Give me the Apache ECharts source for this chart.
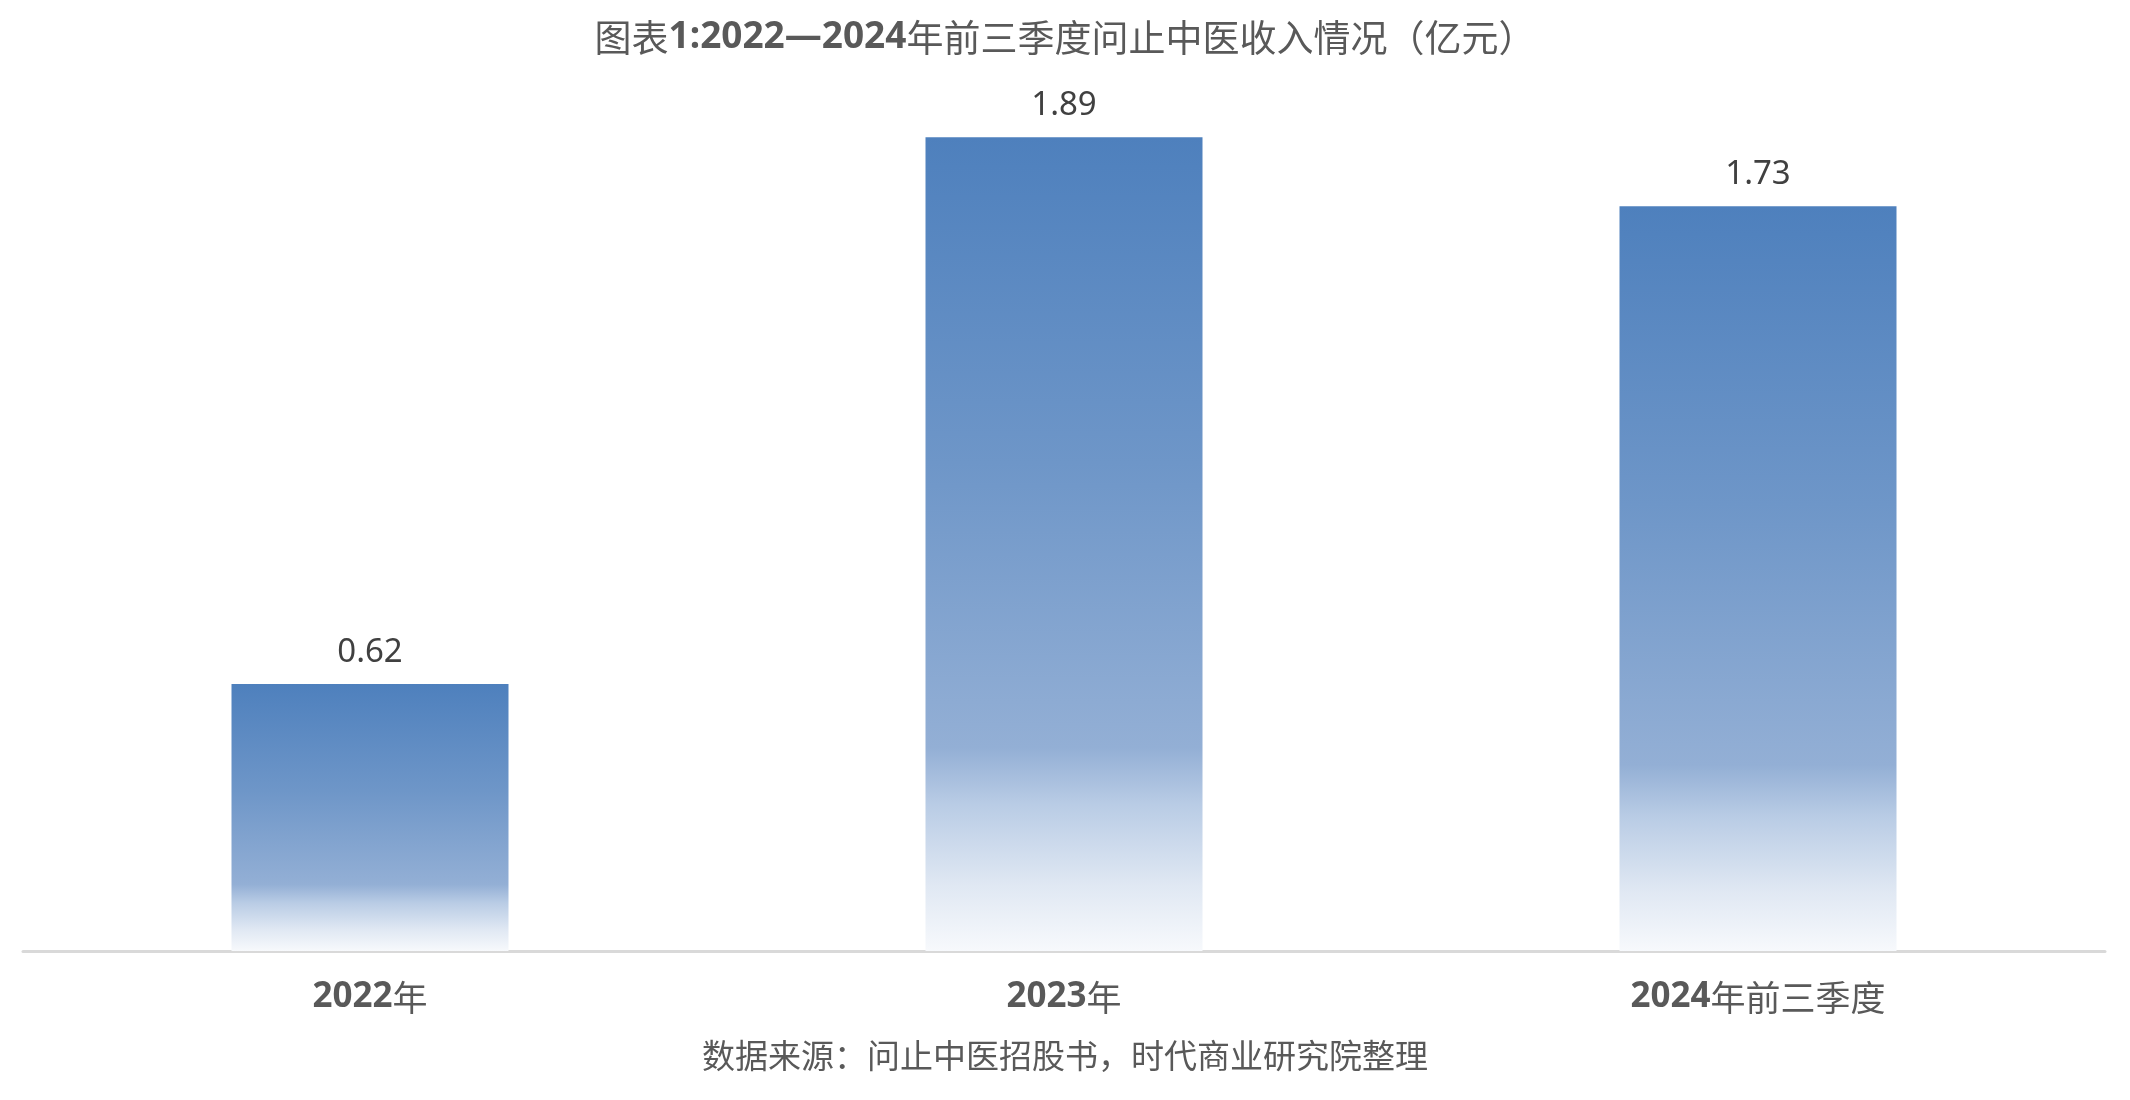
<!DOCTYPE html>
<html>
<head>
<meta charset="utf-8">
<script src="https://cdn.jsdelivr.net/npm/echarts@6/dist/echarts.min.js"></script>
<style>
html,body{margin:0;padding:0;background:#fff;}
#c{width:2130px;height:1100px;}
</style>
</head>
<body>
<div id="c"></div>
<script>
const categories = ['2022年', '2023年', '2024年前三季度'];
const revenue = [0.62, 1.89, 1.73];
const titleText = '图表1:2022—2024年前三季度问止中医收入情况（亿元）';
const sourceText = '数据来源：问止中医招股书，时代商业研究院整理';

const cjk = '"Noto Sans CJK SC", "Noto Sans", sans-serif';
const lat = '"Noto Sans", "Liberation Sans", sans-serif';

function splitRich(s, boldKey, normKey) {
  let out = '';
  let buf = '', cur = null;
  for (const ch of s) {
    const isAscii = /[0-9:\.—]/.test(ch);
    const k = isAscii ? boldKey : normKey;
    if (k !== cur && buf) { out += '{' + cur + '|' + buf + '}'; buf = ''; }
    cur = k; buf += ch;
  }
  if (buf) out += '{' + cur + '|' + buf + '}';
  return out;
}

const chart = echarts.init(document.getElementById('c'));
chart.setOption({
  backgroundColor: '#ffffff',
  animation: false,
  title: [{
    text: splitRich(titleText, 'b', 'n'),
    left: 'center',
    top: 14,
    textStyle: {
      rich: {
        b: { fontFamily: lat, fontWeight: 'bold', fontSize: 37, color: '#595959' },
        n: { fontFamily: cjk, fontWeight: 'normal', fontSize: 37, color: '#595959' }
      }
    }
  }, {
    text: sourceText,
    left: 'center',
    top: 1034,
    textStyle: { fontFamily: cjk, fontWeight: 'normal', fontSize: 33, color: '#595959' }
  }],
  grid: { left: 23, right: 25, top: 90, bottom: 149, containLabel: false },
  xAxis: {
    type: 'category',
    data: categories,
    axisLine: { show: true, lineStyle: { color: '#d9d9d9', width: 3 } },
    axisTick: { show: false },
    axisLabel: {
      margin: 29,
      formatter: v => splitRich(v, 'b', 'n'),
      rich: {
        b: { fontFamily: lat, fontWeight: 'bold', fontSize: 35, color: '#595959' },
        n: { fontFamily: cjk, fontWeight: 'normal', fontSize: 35, color: '#595959' }
      }
    }
  },
  yAxis: {
    type: 'value', min: 0, max: 2, show: false,
    splitLine: { show: false }
  },
  series: [{
    type: 'bar',
    data: revenue,
    barWidth: 277,
    itemStyle: {
      color: new echarts.graphic.LinearGradient(0, 0, 0, 1, [
        { offset: 0, color: '#4e80bd' },
        { offset: 0.4, color: '#6e96c8' },
        { offset: 0.75, color: '#93afd5' },
        { offset: 0.82, color: '#b9cce5' },
        { offset: 0.92, color: '#e0e8f3' },
        { offset: 1, color: '#f7f9fc' }
      ])
    },
    label: {
      show: true,
      position: 'top',
      distance: 15,
      fontFamily: lat,
      fontSize: 33,
      color: '#404040',
      formatter: p => p.value.toFixed(2)
    }
  }]
});
</script>
</body>
</html>
